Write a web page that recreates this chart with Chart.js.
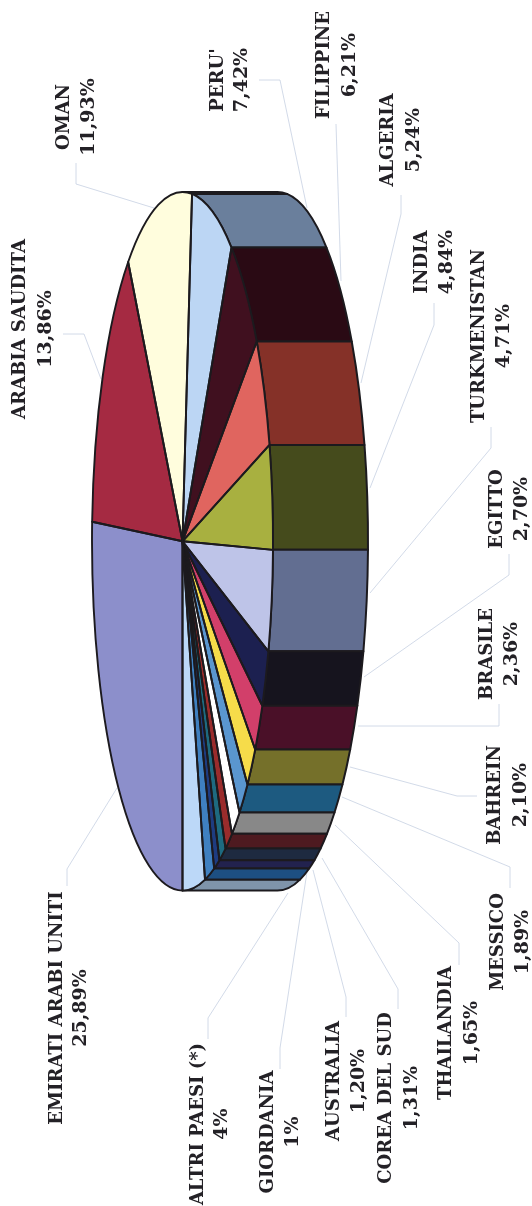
<!DOCTYPE html>
<html>
<head>
<meta charset="utf-8">
<style>html,body{margin:0;padding:0;background:#fff}canvas{display:block}</style>
<script src="https://cdn.jsdelivr.net/npm/chart.js@4/dist/chart.umd.min.js"></script>
</head>
<body>
<canvas id="c" width="532" height="1206"></canvas>
<script>
const categories = ["EMIRATI ARABI UNITI","ARABIA SAUDITA","OMAN","PERU'","FILIPPINE","ALGERIA","INDIA","TURKMENISTAN","EGITTO","BRASILE","BAHREIN","MESSICO","THAILANDIA","COREA DEL SUD","AUSTRALIA","GIORDANIA","","ALTRI PAESI (*)"];
const shares = [25.89,13.86,11.93,7.42,6.21,5.24,4.84,4.71,2.70,2.36,2.10,1.89,1.65,1.31,1.20,1,1.69,4];
const shareLabels = ["25,89%","13,86%","11,93%","7,42%","6,21%","5,24%","4,84%","4,71%","2,70%","2,36%","2,10%","1,89%","1,65%","1,31%","1,20%","1%","","4%"];
const topColors = ["#8C8FCB","#A52A42","#FFFDDD","#BCD6F4","#40101F","#E0655F","#A8B040","#BEC4E8","#1C2050","#D23F6A","#F6DC4A","#5A96CF","#FFFFFF","#9A2C2C","#1E6A80","#1E3C80","#3F80C0","#BCD8F8"];
const sideColors = ["#5A5C88","#6A1C2C","#8A8A60","#6A7F9C","#2A0A14","#853128","#454B1C","#626E91","#16141E","#4A1028","#75702A","#1D5A80","#888888","#4E1A20","#1E2A40","#22224E","#1D4F82","#7F94AA"];

// label layout: centre of name line and share line (x), common centre (y)
const labelLayout = [
  [57.5,81,1008],[20.5,46,329],[64.5,89,117],[218.5,242,80],[324.5,350,65],[388.5,414,140],[422.5,447,262],[479.5,504,336],
  [497.5,522,509],[487.5,512,654],[495.5,521,795],[498.5,523,942],[446.5,472,1033],[386.5,412,1098],[334.5,359,1081],[268.5,293,1132],null,[198.5,222,1124]
];
const leaderLines = [
  [[117,788],[67,869],[67,886]],[[101,379],[84,334],[63,334]],[[154,208],[76,184],[76,163]],[[307,208],[280,80],[259,80]],
  [[341,281],[336,124]],[[361,383],[401,214],[401,195]],[[370,488],[434,325],[434,303]],[[370,593],[491,448],[491,427]],
  [[364,677],[509,575],[509,554]],[[358,726],[499,726],[499,704]],[[350,767],[457,796],[477,796]],[[342,797],[510,867],[510,888]],
  [[335,825],[459,943],[459,965]],[[322,858],[398,989],[398,1009]],[[313,870],[346,997],[346,1017]],[[307,872],[280,1048],[280,1069]],null,[[288,893],[208,1018],[208,1039]]
];
const pie = {cx:182.5, cy:541.3, rx:90.5, ry:349.3, depth:95};
const ink = "#1c1a1e";

const pie3d = {
  id:"pie3d",
  beforeDatasetDraw(chart){
    const ctx = chart.ctx, arcs = chart.getDatasetMeta(0).data;
    // leader lines
    ctx.save();
    ctx.strokeStyle = "#C6D0E2"; ctx.lineWidth = 0.8;
    leaderLines.forEach(l=>{ if(!l) return; ctx.beginPath(); l.forEach((p,i)=> i?ctx.lineTo(p[0],p[1]):ctx.moveTo(p[0],p[1])); ctx.stroke(); });
    // extruded side, right half only
    const lo = 1.5*Math.PI, hi = 2.5*Math.PI;
    ctx.lineWidth = 2; ctx.strokeStyle = ink; ctx.lineJoin = "round";
    arcs.forEach((a,i)=>{
      const s = Math.max(a.startAngle,lo), e = Math.min(a.endAngle,hi);
      if(e<=s) return;
      ctx.beginPath();
      ctx.ellipse(pie.cx,pie.cy,pie.rx,pie.ry,0,s,e);
      ctx.ellipse(pie.cx+pie.depth,pie.cy,pie.rx,pie.ry,0,e,s,true);
      ctx.closePath();
      ctx.fillStyle = sideColors[i]; ctx.fill(); ctx.stroke();
    });
    ctx.restore();
    // top face is the library's own arcs, squeezed to the ellipse
    const a0 = arcs[0], R = a0.outerRadius;
    ctx.save();
    ctx.translate(pie.cx,pie.cy);
    ctx.scale(pie.rx/R,pie.ry/R);
    ctx.translate(-a0.x,-a0.y);
  },
  afterDatasetDraw(chart){
    const ctx = chart.ctx, arcs = chart.getDatasetMeta(0).data;
    ctx.restore();
    ctx.save();
    ctx.strokeStyle = ink; ctx.lineWidth = 1.9; ctx.lineJoin = "round";
    arcs.forEach(a=>{
      ctx.beginPath();
      ctx.moveTo(pie.cx,pie.cy);
      ctx.ellipse(pie.cx,pie.cy,pie.rx,pie.ry,0,a.startAngle,a.endAngle);
      ctx.closePath();
      ctx.stroke();
    });
    // text
    ctx.fillStyle = "#232126";
    ctx.textAlign = "center"; ctx.textBaseline = "middle";
    categories.forEach((name,i)=>{
      const l = labelLayout[i]; if(!l) return;
      [[name,l[0],"bold 18px 'DejaVu Serif'"],[shareLabels[i],l[1],"bold 19px 'DejaVu Serif'"]].forEach(t=>{
        ctx.save();
        ctx.font = t[2];
        ctx.translate(t[1],l[2]);
        ctx.rotate(-Math.PI/2);
        ctx.fillText(t[0],0,0);
        ctx.restore();
      });
    });
    ctx.restore();
  }
};

new Chart(document.getElementById("c"),{
  type:"pie",
  data:{labels:categories,datasets:[{data:shares,backgroundColor:topColors,borderWidth:0}]},
  options:{
    responsive:false,animation:false,rotation:180,
    plugins:{legend:{display:false},tooltip:{enabled:false}},
    layout:{padding:0}
  },
  plugins:[pie3d]
});
</script>
</body>
</html>
